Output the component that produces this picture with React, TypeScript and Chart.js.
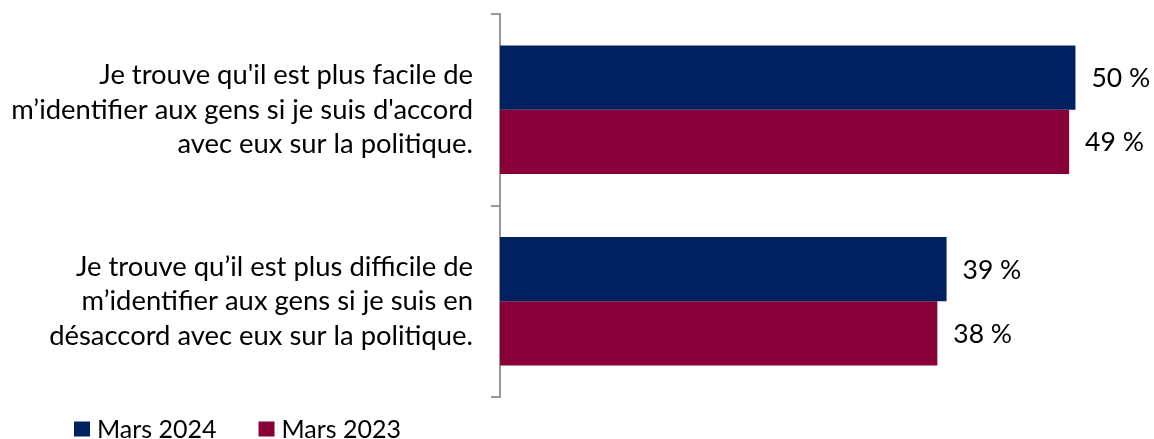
import React, { useEffect, useRef } from "react";
import { Chart, registerables } from "chart.js";

Chart.register(...registerables);

const categories: string[][] = [
  ["Je trouve qu'il est plus facile de", "m’identifier aux gens si je suis d'accord", "avec eux sur la politique."],
  ["Je trouve qu’il est plus difficile de", "m’identifier aux gens si je suis en", "désaccord avec eux sur la politique."],
];
const seriesNames = ["Mars 2024", "Mars 2023"];
const mars2024 = [50, 38.8];
const mars2023 = [49.45, 38.0];
const seriesColors = ["#002060", "#870037"];

const FONT = "Lato, 'Noto Sans', sans-serif";

const valueLabels = {
  id: "valueLabels",
  afterDatasetsDraw(chart: any) {
    const ctx = chart.ctx;
    ctx.save();
    ctx.font = `26.5px ${FONT}`;
    ctx.fillStyle = "#000";
    ctx.textAlign = "left";
    ctx.textBaseline = "middle";
    chart.data.datasets.forEach((ds: any, i: number) => {
      const meta = chart.getDatasetMeta(i);
      meta.data.forEach((el: any, j: number) => {
        const v = ds.data[j];
        ctx.fillText(`${Math.round(v)} %`, el.x + 16, el.y + 1);
      });
    });
    ctx.restore();
  },
};

const bottomLegend = {
  id: "bottomLegend",
  afterDraw(chart: any) {
    const ctx = chart.ctx;
    ctx.save();
    ctx.font = `25px ${FONT}`;
    ctx.textBaseline = "middle";
    ctx.textAlign = "left";
    const cy = chart.chartArea.bottom + 32;
    let x = 74;
    chart.data.datasets.forEach((ds: any) => {
      ctx.fillStyle = ds.backgroundColor;
      ctx.fillRect(x, cy - 7.5, 16, 15);
      ctx.fillStyle = "#000";
      ctx.fillText(ds.label, x + 23, cy + 1);
      x += 23 + ctx.measureText(ds.label).width + 42;
    });
    ctx.restore();
  },
};

export default function App() {
  const ref = useRef<HTMLCanvasElement>(null);
  useEffect(() => {
    document.body.style.margin = "0";
    if (!ref.current) return;
    const chart = new Chart(ref.current, {
      type: "bar",
      data: {
        labels: categories,
        datasets: [
          { label: seriesNames[0], data: mars2024, backgroundColor: seriesColors[0] },
          { label: seriesNames[1], data: mars2023, backgroundColor: seriesColors[1] },
        ],
      },
      options: {
        indexAxis: "y",
        animation: false,
        responsive: false,
        maintainAspectRatio: false,
        layout: { padding: { top: 14, bottom: 42, right: 21, left: 0 } },
        datasets: { bar: { categoryPercentage: 0.67, barPercentage: 1 } },
        plugins: { legend: { display: false }, tooltip: { enabled: false } },
        scales: {
          x: { display: false, min: 0, max: 55 },
          y: {
            afterFit(scale: any) {
              scale.width = 500;
              scale.paddingTop = 0;
              scale.paddingBottom = 0;
            },
            grid: {
              display: true,
              drawOnChartArea: false,
              drawTicks: true,
              tickLength: 9,
              color: "#999999",
              lineWidth: 2,
              offset: true,
            },
            border: { display: true, color: "#999999", width: 2 },
            ticks: {
              color: "#000",
              padding: 18,
              font: { family: FONT, size: 27.4, lineHeight: 34.5 / 27.4 },
            },
          },
        },
      },
      plugins: [valueLabels, bottomLegend],
    });
    return () => chart.destroy();
  }, []);
  return <canvas ref={ref} width={1154} height={439} style={{ display: "block" }} />;
}
